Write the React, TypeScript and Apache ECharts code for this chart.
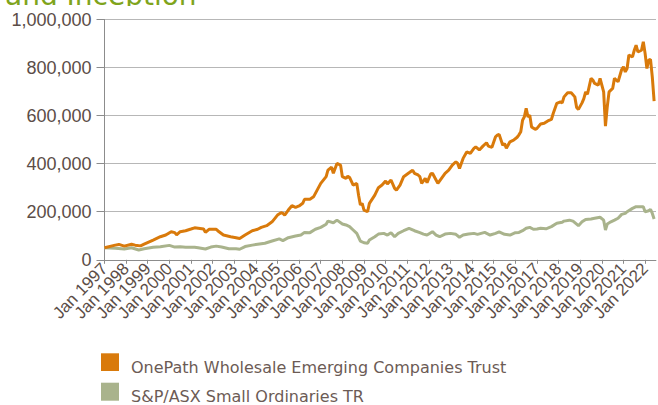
import React, { useEffect, useRef } from "react";
import * as echarts from "echarts";

const titleText = "and Inception";
const seriesNames = [
  "OnePath Wholesale Emerging Companies Trust",
  "S&P/ASX Small Ordinaries TR",
];
const seriesColors = ["#d97a0b", "#a9b38c"];

const fundDates = [
  "1997-01","1997-07","1997-09","1997-12","1998-04","1998-06","1998-09","1998-11",
  "1999-04","1999-08","1999-11","2000-02","2000-04","2000-05","2000-07","2000-10",
  "2001-01","2001-03","2001-05","2001-08","2001-09","2001-11","2002-03","2002-04",
  "2002-07","2002-11","2003-02","2003-04","2003-07","2003-11","2004-02","2004-04",
  "2004-07","2004-10","2005-01","2005-03","2005-04","2005-05","2005-07","2005-09",
  "2005-11","2006-01","2006-03","2006-04","2006-07","2006-09","2006-11","2007-01",
  "2007-04","2007-05","2007-07","2007-08","2007-10","2007-12","2008-01","2008-03",
  "2008-04","2008-05","2008-07","2008-09","2008-10","2008-11","2008-12","2009-01",
  "2009-03","2009-04","2009-07","2009-09","2009-11","2010-01","2010-02","2010-04",
  "2010-06","2010-07","2010-09","2010-11","2011-02","2011-04","2011-05","2011-07",
  "2011-08","2011-09","2011-11","2011-12","2012-02","2012-03","2012-05","2012-06",
  "2012-08","2012-10","2012-12","2013-02","2013-04","2013-05","2013-06","2013-08",
  "2013-10","2013-12","2014-02","2014-03","2014-05","2014-07","2014-09","2014-10",
  "2014-12","2015-02","2015-03","2015-04","2015-06","2015-07","2015-08","2015-10",
  "2015-12","2016-02","2016-03","2016-04","2016-05","2016-06","2016-07","2016-08",
  "2016-09","2016-10","2016-12","2017-01","2017-03","2017-05","2017-07","2017-09",
  "2017-10","2017-12","2018-02","2018-03","2018-04","2018-06","2018-08","2018-10",
  "2018-11","2018-12","2019-02","2019-03","2019-04","2019-05","2019-07","2019-08",
  "2019-09","2019-11","2019-12","2020-02","2020-03","2020-04","2020-05","2020-07",
  "2020-08","2020-10","2020-12","2021-01","2021-02","2021-03","2021-04","2021-06",
  "2021-07","2021-08","2021-09","2021-11","2021-12","2022-01","2022-02","2022-03",
  "2022-04","2022-05","2022-06",
];
const fundValues = [
  50000,61000,64000,57000,65000,61000,58000,65000,
  82000,96000,103000,117000,113000,104000,117000,121000,
  128000,133000,131000,128000,114000,127000,127000,120000,
  103000,96000,92000,89000,103000,121000,127000,135000,
  142000,158000,186000,196000,193000,186000,207000,225000,
  218000,224000,235000,252000,252000,262000,290000,318000,
  346000,373000,385000,360000,401000,394000,346000,339000,
  348000,343000,311000,318000,269000,228000,235000,207000,
  200000,235000,269000,300000,311000,328000,315000,332000,
  297000,290000,311000,346000,362000,373000,360000,353000,
  346000,318000,339000,321000,357000,360000,332000,318000,
  339000,360000,373000,394000,408000,401000,380000,422000,
  449000,443000,464000,470000,457000,473000,487000,473000,
  468000,512000,519000,522000,477000,484000,464000,491000,
  498000,510000,520000,533000,581000,595000,630000,595000,
  602000,553000,543000,547000,565000,568000,578000,584000,
  609000,651000,657000,653000,678000,695000,695000,678000,
  634000,626000,653000,671000,699000,689000,755000,748000,
  734000,727000,755000,699000,556000,637000,699000,713000,
  755000,741000,792000,803000,782000,796000,852000,844000,
  872000,893000,865000,872000,907000,859000,796000,831000,
  834000,760000,660000,
];

const indexDates = [
  "1997-01","1997-07","1997-12","1998-04","1998-08","1998-11","1999-04","1999-08",
  "2000-01","2000-04","2000-07","2000-10","2001-03","2001-05","2001-09","2001-12",
  "2002-03","2002-06","2002-10","2003-02","2003-04","2003-07","2003-11","2004-03",
  "2004-06","2004-10","2005-02","2005-04","2005-07","2005-11","2006-02","2006-04",
  "2006-07","2006-10","2007-01","2007-04","2007-05","2007-08","2007-10","2008-01",
  "2008-03","2008-05","2008-07","2008-09","2008-11","2009-01","2009-03","2009-04",
  "2009-07","2009-09","2009-12","2010-02","2010-04","2010-06","2010-08","2010-11",
  "2011-02","2011-03","2011-05","2011-08","2011-10","2011-12","2012-03","2012-05",
  "2012-07","2012-10","2013-01","2013-04","2013-06","2013-08","2013-11","2014-02",
  "2014-04","2014-08","2014-11","2015-02","2015-04","2015-07","2015-10","2016-01",
  "2016-03","2016-05","2016-07","2016-09","2016-11","2017-01","2017-03","2017-06",
  "2017-09","2017-12","2018-03","2018-04","2018-07","2018-09","2018-12","2019-02",
  "2019-04","2019-07","2019-09","2019-12","2020-02","2020-03","2020-04","2020-06",
  "2020-08","2020-10","2020-12","2021-02","2021-03","2021-06","2021-08","2021-10",
  "2021-12","2022-01","2022-03","2022-04","2022-05","2022-06",
];
const indexValues = [
  50000,48000,45000,50000,41000,46000,52000,54000,
  60000,53000,54000,52000,52000,50000,45000,53000,
  57000,53000,46000,46000,44000,55000,61000,66000,
  69000,78000,87000,80000,92000,99000,103000,114000,
  113000,127000,135000,148000,161000,154000,165000,149000,
  145000,138000,124000,110000,78000,71000,69000,82000,
  96000,107000,110000,103000,113000,96000,110000,121000,
  131000,128000,121000,113000,107000,103000,117000,103000,
  96000,107000,110000,106000,94000,103000,107000,110000,
  106000,114000,103000,110000,116000,106000,103000,113000,
  114000,121000,131000,135000,127000,128000,131000,129000,
  138000,152000,156000,161000,165000,161000,142000,158000,
  168000,170000,173000,177000,165000,124000,149000,158000,
  165000,173000,189000,193000,200000,214000,221000,221000,
  221000,200000,204000,210000,193000,170000,
];

const yMin = 0;
const yMax = 1000000;
const yStep = 200000;
const firstYear = 1997;
const lastYear = 2022;
const lastMonth = 7;

// monthly axis categories Jan 1997 .. Jul 2022
const monthCategories: string[] = [];
for (let y = firstYear; y <= lastYear; y++) {
  for (let m = 1; m <= 12; m++) {
    if (y === lastYear && m > lastMonth) break;
    monthCategories.push(`${y}-${String(m).padStart(2, "0")}`);
  }
}

function pairs(dates: string[], values: number[]) {
  return dates.map((d, i) => [d, values[i]]);
}

const isJanuary = (c: string) => c.endsWith("-01");

const labelColor = "#5b4d47";
const axisColor = "#8c8c8c";
const legendColor = "#6c5b55";

export default function App() {
  const ref = useRef<HTMLDivElement>(null);
  useEffect(() => {
    if (!ref.current) return;
    const chart = echarts.init(ref.current, undefined, { renderer: "svg" });
    chart.setOption({
      animation: false,
      backgroundColor: "#ffffff",
      grid: { left: 104.5, right: 0, top: 19.5, bottom: 145.2, containLabel: false },
      xAxis: {
        type: "category",
        data: monthCategories,
        boundaryGap: false,
        axisLine: { show: true, onZero: false, lineStyle: { color: axisColor, width: 1 } },
        axisTick: {
          show: true,
          length: 4,
          interval: (_i: number, c: string) => isJanuary(c),
          lineStyle: { color: axisColor },
        },
        splitLine: { show: false },
        axisLabel: {
          interval: 0,
          rotate: 46,
          margin: 6,
          fontFamily: "'Liberation Sans'",
          fontSize: 17,
          color: labelColor,
          formatter: (c: string) => (isJanuary(c) ? "Jan " + c.slice(0, 4) : ""),
        },
      },
      yAxis: {
        type: "value",
        min: yMin,
        max: yMax,
        interval: yStep,
        axisLine: { show: true, lineStyle: { color: axisColor, width: 1 } },
        axisTick: { show: true, length: 8, lineStyle: { color: axisColor } },
        splitLine: { show: true, lineStyle: { color: "#6e6e6e", type: [1, 1], width: 1 } },
        axisLabel: {
          margin: 13,
          fontFamily: "'Liberation Sans'",
          fontSize: 18,
          color: labelColor,
          formatter: (v: number) => v.toLocaleString("en-US"),
        },
      },
      series: [
        {
          name: seriesNames[1],
          type: "line",
          data: pairs(indexDates, indexValues),
          showSymbol: false,
          lineStyle: { color: seriesColors[1], width: 3 },
          itemStyle: { color: seriesColors[1] },
          z: 2,
        },
        {
          name: seriesNames[0],
          type: "line",
          data: pairs(fundDates, fundValues),
          showSymbol: false,
          lineStyle: { color: seriesColors[0], width: 3 },
          itemStyle: { color: seriesColors[0] },
          z: 3,
        },
      ],
      graphic: [
        {
          type: "text",
          x: 5,
          y: -4.2,
          z: 10,
          style: {
            text: titleText,
            font: "28px 'DejaVu Sans'",
            lineHeight: 20,
            fill: "#7fa41c",
            verticalAlign: "middle",
          },
        },
        {
          type: "rect",
          z: 11,
          shape: { x: 0, y: 6, width: 230, height: 6 },
          style: { fill: "#ffffff" },
        },
        {
          type: "rect",
          shape: { x: 101, y: 353.3, width: 18, height: 17.7 },
          style: { fill: seriesColors[0] },
        },
        {
          type: "text",
          x: 131,
          y: 367,
          style: {
            text: seriesNames[0],
            font: "16px 'DejaVu Sans'",
            fill: legendColor,
            verticalAlign: "middle",
          },
        },
        {
          type: "rect",
          shape: { x: 101, y: 382.7, width: 18, height: 18 },
          style: { fill: seriesColors[1] },
        },
        {
          type: "text",
          x: 131,
          y: 396.7,
          style: {
            text: seriesNames[1],
            font: "16px 'DejaVu Sans'",
            fill: legendColor,
            verticalAlign: "middle",
          },
        },
      ],
    });
    return () => chart.dispose();
  }, []);
  return <div ref={ref} style={{ width: 658, height: 405, position: "absolute", left: 0, top: 0 }} />;
}
